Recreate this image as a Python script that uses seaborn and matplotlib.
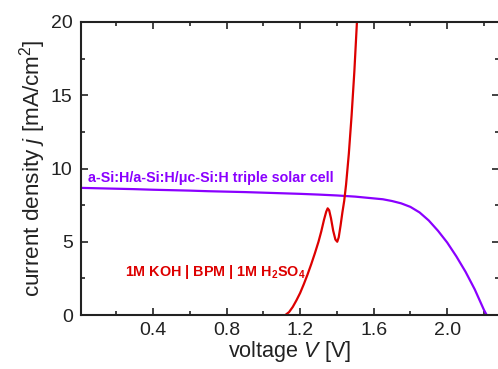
import numpy as np
import pandas as pd
import matplotlib
matplotlib.use("Agg")
import matplotlib.pyplot as plt
from matplotlib.ticker import MultipleLocator
import seaborn as sns

# Solar cell J-V curve
solar_V = [0.00, 0.10, 0.20, 0.30, 0.40, 0.50, 0.60, 0.70, 0.80, 0.90, 1.00, 1.10,
           1.20, 1.30, 1.40, 1.45, 1.50, 1.55, 1.60, 1.65, 1.70, 1.75, 1.80, 1.85,
           1.90, 1.95, 2.00, 2.05, 2.10, 2.15, 2.20, 2.215]
solar_j = [8.68, 8.65, 8.62, 8.59, 8.55, 8.52, 8.49, 8.45, 8.42, 8.39, 8.35, 8.31,
           8.27, 8.22, 8.16, 8.12, 8.08, 8.02, 7.96, 7.90, 7.78, 7.62, 7.38, 7.00,
           6.45, 5.75, 4.95, 4.00, 2.95, 1.75, 0.35, 0.0]

# Electrolysis curve
elec_V = [1.120, 1.140, 1.160, 1.180, 1.200, 1.220, 1.240, 1.260, 1.280, 1.300,
          1.315, 1.330, 1.342, 1.350, 1.358, 1.368, 1.380, 1.392, 1.402, 1.410,
          1.420, 1.430, 1.440, 1.450, 1.465, 1.480, 1.495, 1.510]
elec_j = [0.00, 0.20, 0.55, 1.00, 1.50, 2.10, 2.75, 3.45, 4.20, 5.00,
          5.70, 6.50, 7.05, 7.28, 7.15, 6.60, 5.75, 5.15, 5.00, 5.30,
          6.10, 7.00, 7.80, 8.90, 11.00, 13.60, 16.60, 20.20]

solar_label = "a-Si:H/a-Si:H/\u03bcc-Si:H triple solar cell"
elec_label = "1M KOH | BPM | 1M H$_\\mathbf{2}$SO$_\\mathbf{4}$"
x_ticks = [0.4, 0.8, 1.2, 1.6, 2.0]
y_ticks = [0, 5, 10, 15, 20]

purple = "#8A00FF"
red = "#DD0000"

sns.set_style("ticks")
plt.rcParams["font.family"] = ["Liberation Sans", "DejaVu Sans"]
plt.rcParams["mathtext.fontset"] = "custom"
plt.rcParams["mathtext.rm"] = "Liberation Sans"
plt.rcParams["mathtext.it"] = "Liberation Sans:italic"
plt.rcParams["mathtext.bf"] = "Liberation Sans:bold"

fig = plt.figure(figsize=(4.98, 3.69), dpi=100)
ax = fig.add_axes([81/498, 1-315/369, (499-81)/498, (315-22)/369])

df_s = pd.DataFrame({"V": solar_V, "j": solar_j})
df_e = pd.DataFrame({"V": elec_V, "j": elec_j})
sns.lineplot(data=df_s, x="V", y="j", ax=ax, color=purple, lw=1.6, sort=False, estimator=None)
sns.lineplot(data=df_e, x="V", y="j", ax=ax, color=red, lw=1.6, sort=False, estimator=None)

ax.set_xlim(0.008, 2.282)
ax.set_ylim(0, 20)
ax.set_xticks(x_ticks)
ax.set_xticklabels([f"{t:.1f}" for t in x_ticks])
ax.set_yticks(y_ticks)
ax.xaxis.set_minor_locator(MultipleLocator(0.2))
ax.yaxis.set_minor_locator(MultipleLocator(2.5))
ax.tick_params(which="both", direction="in", top=True, right=True, labelsize=14,
               colors="#222222", width=1.2)
ax.tick_params(which="major", length=5, pad=6)
ax.tick_params(axis="x", which="major", pad=5)
ax.tick_params(which="minor", length=3)
for s in ax.spines.values():
    s.set_linewidth(1.5)
    s.set_color("#222222")

ax.set_xlabel("voltage $\\mathit{V}$ [V]", fontsize=15.6, labelpad=0, color="#222222")
ax.set_ylabel("current density $\\mathit{j}$ [mA/cm$^2$]", fontsize=16.2, labelpad=2, color="#222222")

ax.text(0.045, 9.35, solar_label, color=purple, fontsize=10.3, fontweight="bold", va="center")
ax.text(0.25, 2.95, elec_label, color=red, fontsize=10.4, fontweight="bold", va="center")

fig.savefig("out.png", dpi=100)
